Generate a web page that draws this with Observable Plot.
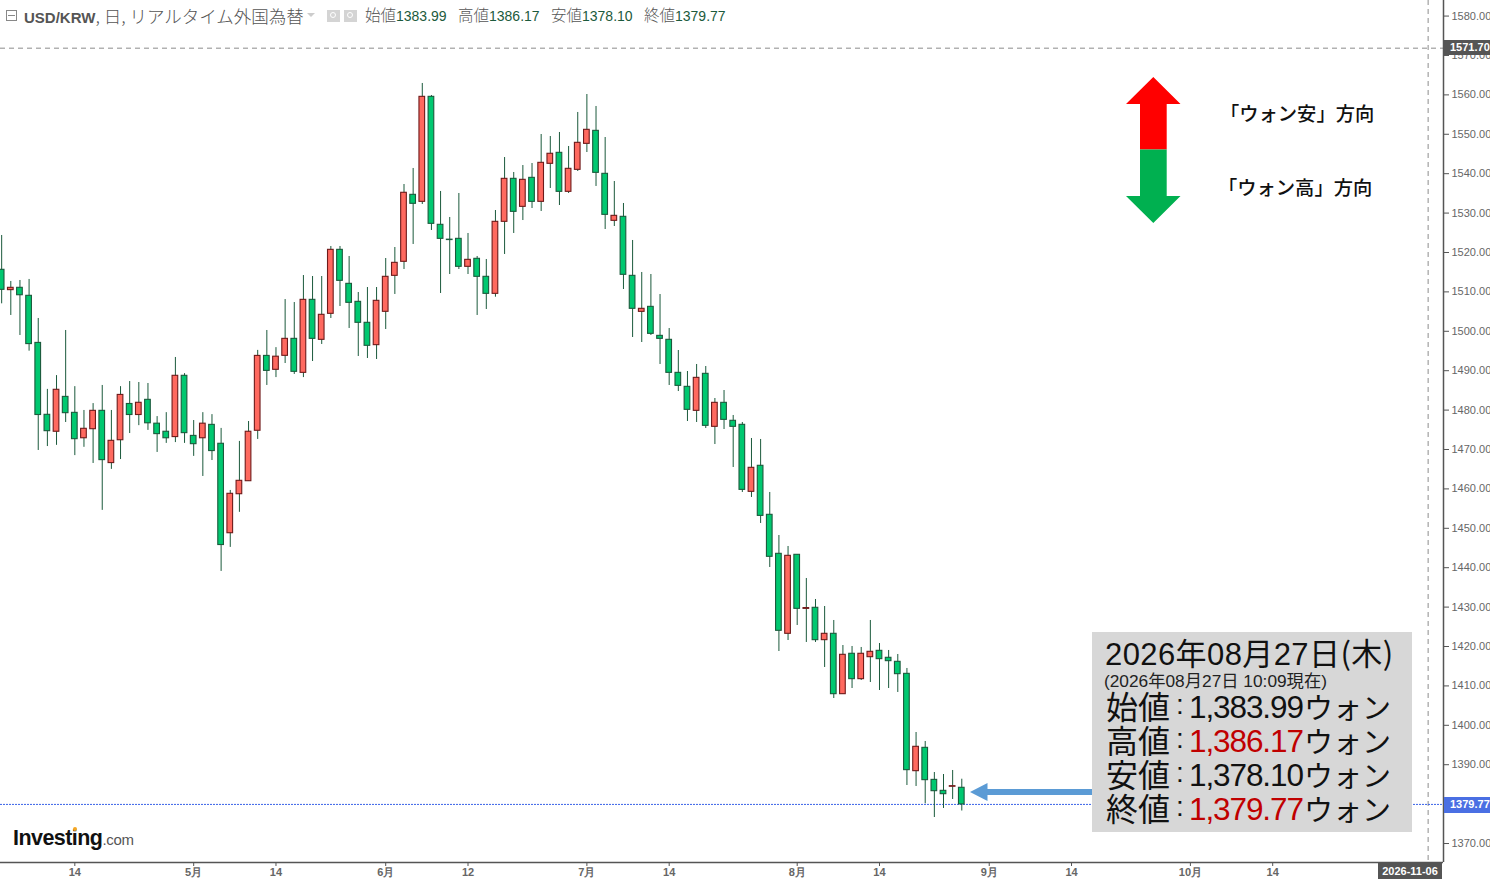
<!DOCTYPE html>
<html lang="ja">
<head>
<meta charset="utf-8">
<script src="https://cdn.jsdelivr.net/npm/d3@7"></script>
<script src="https://cdn.jsdelivr.net/npm/@observablehq/plot@0.6"></script>
<style>
html,body{margin:0;padding:0;background:#fff;overflow:hidden}
#wrap{position:relative;width:1490px;height:879px;overflow:hidden;font-family:"Liberation Sans",Arial,sans-serif}
#wrap svg.plot-root{position:absolute;left:0;top:0}
.ov{position:absolute;white-space:nowrap}
.tag{color:#fff;font:bold 11px "Liberation Sans",Arial,sans-serif;line-height:15px;text-align:left}
.jp{font-family:"Noto Sans CJK JP","Liberation Sans",sans-serif}
.cell{position:absolute;height:34px;line-height:34px;white-space:nowrap;color:#111;font-family:"Liberation Sans",sans-serif}
.cell.jp{font-family:"Noto Sans CJK JP",sans-serif}
</style>
</head>
<body>
<div id="wrap"></div>
<script>
// Daily USD/KRW candles, left to right (trading-day index = array position)
const open = [1515.45,1510.29,1510.88,1508.85,1496.9,1478.65,1474.35,1483.2,1479.15,1472.7,
1475.0,1479.66,1466.4,1472.2,1481.4,1478.6,1482.45,1476.4,1474.35,1473.0,
1488.55,1473.3,1472.7,1476.1,1471.3,1448.6,1458.5,1461.8,1474.6,1493.6,
1490.07,1493.62,1497.93,1489.3,1507.83,1497.68,1504.28,1520.52,1511.89,1507.32,
1502.0,1496.33,1504.79,1513.92,1517.48,1534.48,1532.7,1559.35,1526.87,1523.1,
1523.31,1516.21,1518.24,1513.67,1509.35,1527.63,1538.54,1531.43,1538.79,1532.7,
1542.35,1545.14,1535.24,1540.82,1547.42,1550.72,1539.81,1527.88,1528.9,1513.92,
1504.78,1506.05,1498.69,1497.68,1489.3,1485.75,1479.66,1489.05,1475.6,1481.69,
1477.13,1476.11,1459.1,1465.71,1453.27,1443.37,1423.07,1443.12,1429.4,1429.67,
1421.46,1423.07,1407.75,1418.0,1411.56,1417.14,1418.75,1416.98,1415.96,1412.91,
1388.21,1394.13,1386.0,1383.22,1384.25,1383.99];
const high = [1524.16,1512.49,1512.74,1513.0,1503.1,1485.1,1488.6,1500.05,1485.8,1479.75,
1481.5,1486.1,1479.75,1485.8,1487.1,1486.85,1486.6,1478.2,1479.2,1493.2,
1489.1,1477.2,1479.2,1478.7,1475.2,1459.45,1471.9,1476.95,1495.0,1500.05,
1495.7,1507.9,1507.15,1514.0,1513.75,1513.75,1521.37,1521.37,1518.83,1509.69,
1510.96,1510.96,1518.32,1521.11,1537.1,1541.17,1562.74,1559.69,1535.33,1528.73,
1534.82,1524.67,1518.83,1518.07,1530.5,1543.95,1540.15,1541.92,1542.43,1549.79,
1549.28,1550.3,1546.75,1555.38,1559.94,1556.9,1549.03,1537.86,1532.28,1522.89,
1514.77,1514.26,1509.18,1500.55,1494.97,1489.64,1491.42,1490.91,1482.79,1484.82,
1478.48,1476.7,1472.64,1472.39,1458.94,1448.02,1445.23,1443.12,1437.11,1431.78,
1430.0,1426.45,1420.1,1419.85,1419.6,1426.45,1420.61,1418.84,1417.82,1414.27,
1398.02,1395.74,1387.87,1387.36,1388.38,1386.17];
const low = [1506.82,1503.86,1498.78,1494.8,1469.6,1470.6,1470.9,1476.7,1468.3,1470.4,
1466.3,1454.4,1464.8,1467.3,1473.9,1475.9,1474.7,1469.1,1471.4,1471.6,
1471.4,1468.1,1463.0,1467.05,1438.9,1445.0,1453.9,1461.8,1472.4,1486.1,
1488.1,1491.67,1488.9,1488.1,1492.18,1496.5,1503.1,1506.14,1500.56,1493.45,
1492.94,1492.69,1500.3,1509.19,1515.53,1521.88,1532.03,1525.43,1509.44,1514.26,
1515.53,1514.26,1503.86,1505.38,1508.5,1519.34,1524.67,1527.96,1531.01,1530.25,
1536.09,1531.77,1534.82,1540.4,1545.22,1536.6,1525.68,1526.44,1510.45,1498.27,
1497.0,1498.78,1491.42,1486.09,1484.56,1476.95,1476.7,1475.17,1471.11,1474.92,
1465.28,1458.94,1457.67,1451.07,1439.9,1418.58,1421.37,1425.18,1420.87,1420.87,
1414.52,1406.65,1407.75,1409.19,1411.22,1410.71,1408.68,1409.19,1408.18,1384.57,
1384.32,1379.92,1376.45,1378.74,1381.02,1378.1];
const close = [1510.37,1510.88,1509.0,1496.6,1478.6,1474.5,1485.0,1479.07,1472.47,1475.1,
1479.66,1467.15,1472.05,1483.7,1478.6,1481.7,1476.5,1473.75,1472.7,1488.55,
1474.0,1471.2,1476.4,1469.45,1445.6,1458.6,1461.9,1474.35,1493.6,1489.8,
1493.4,1497.93,1489.56,1507.83,1497.93,1504.03,1520.52,1512.65,1507.07,1502.0,
1496.16,1507.58,1513.67,1517.22,1535.0,1532.2,1559.35,1527.12,1523.31,1523.0,
1516.21,1517.98,1513.67,1509.35,1527.63,1538.54,1530.16,1538.29,1532.7,1542.6,
1544.9,1535.24,1541.08,1547.68,1550.98,1540.06,1529.4,1529.15,1514.18,1505.55,
1505.55,1499.2,1497.93,1489.3,1486.0,1479.91,1488.03,1475.85,1481.69,1477.37,
1475.6,1459.6,1465.2,1453.0,1442.61,1423.83,1442.86,1429.41,1429.6,1421.46,
1423.07,1407.75,1417.74,1411.56,1418.0,1418.5,1416.64,1416.13,1412.83,1388.47,
1394.39,1385.93,1383.13,1382.37,1384.4,1379.77];

const xTickIndex = [8,21,30,42,51,64,73,87,96,108,117,130,139];
const xTickLabels = ["14","5月","14","6月","12","7月","14","8月","14","9月","14","10月","14"];
const yTicks = [1370,1380,1390,1400,1410,1420,1430,1440,1450,1460,1470,1480,1490,1500,1510,1520,1530,1540,1550,1560,1570,1580];
const crosshairPrice = 1571.70;
const crosshairIndex = 156;
const lastClose = 1379.77;

const candles = open.map((o,i)=>({i,open:o,high:high[i],low:low[i],close:close[i],up:close[i]>o}));

const XDOMAIN=[-0.127,157.68], YDOMAIN=[1365.03,1583.8];
const chart = Plot.plot({
  width:1490,height:879,marginLeft:0,marginRight:47,marginTop:0,marginBottom:17,
  style:{fontFamily:'"Liberation Sans",Arial,sans-serif',background:"transparent",overflow:"hidden"},
  x:{type:"linear",domain:XDOMAIN},
  y:{type:"linear",domain:YDOMAIN},
  marks:[
    Plot.ruleY([crosshairPrice],{stroke:"#8c8c8c",strokeWidth:1,strokeDasharray:"5,4"}),
    Plot.ruleX([crosshairIndex],{stroke:"#8c8c8c",strokeWidth:1,strokeDasharray:"5,4"}),
    Plot.ruleY([lastClose],{stroke:"#3a62e8",strokeWidth:1,strokeDasharray:"2,1"}),
    Plot.ruleX(candles,{x:"i",y1:"low",y2:"high",stroke:"#1b5a3c",strokeWidth:1}),
    Plot.rect(candles,{
      x1:d=>d.i-0.31,x2:d=>d.i+0.31,
      y1:d=>Math.min(d.open,d.close),y2:d=>Math.max(d.open,d.close),
      fill:d=>d.up?"#ff695f":"#00c870",
      stroke:d=>d.up?"#6e1a1a":"#1b5a3c",strokeWidth:1.1
    }),
    Plot.ruleX([XDOMAIN[1]],{stroke:"#555",strokeWidth:1.5}),
    Plot.ruleY([YDOMAIN[0]],{stroke:"#555",strokeWidth:1.5}),
    Plot.axisY({anchor:"right",ticks:yTicks,tickFormat:d=>d.toFixed(2),tickSize:5,tickPadding:3,label:null,fontSize:11,fill:"#666",stroke:"#555",dy:0.6}),
    Plot.axisX({anchor:"bottom",ticks:xTickIndex,tickFormat:d=>xTickLabels[xTickIndex.indexOf(d)],tickSize:4,tickPadding:2,label:null,fontSize:11,fontWeight:"bold",fill:"#666",stroke:"#555"})
  ]
});
const wrap=document.getElementById("wrap");
wrap.appendChild(chart);

function add(html){const t=document.createElement("template");t.innerHTML=html.trim();wrap.appendChild(t.content.firstChild);}

// header legend
add(`<div class="ov" style="left:6px;top:10px;width:11px;height:11px;border:1px solid #888;box-sizing:border-box"><div style="margin:4px 1px 0;height:1px;background:#888"></div></div>`);
add(`<div class="ov jp" style="left:24px;top:4px;font-size:17.5px;line-height:23px;font-weight:300;color:#555"><b style="font-family:'Liberation Sans';font-weight:bold;font-size:15px">USD/KRW</b>, 日, リアルタイム外国為替</div>`);
add(`<div class="ov" style="left:307px;top:13px;width:0;height:0;border:4px solid transparent;border-top:4px solid #ccc"></div>`);
add(`<div class="ov" style="left:327px;top:10px;width:13px;height:12px;background:#d4d4d4"><div style="width:6px;height:6px;border:1px solid #fff;border-radius:50%;margin:2px 2.5px;box-sizing:border-box"></div></div>`);
add(`<div class="ov" style="left:344px;top:10px;width:13px;height:12px;background:#d4d4d4"><div style="width:6px;height:6px;border:1px solid #fff;border-radius:50%;margin:2px 2.5px;box-sizing:border-box"></div></div>`);
const hdr=[["始値",365,"1383.99"],["高値",458,"1386.17"],["安値",551,"1378.10"],["終値",644,"1379.77"]];
hdr.forEach(([k,x,v])=>add(`<div class="ov" style="left:${x}px;top:3px;line-height:22px;font-size:14px;color:#1c5a3c"><span class="jp" style="color:#555;font-size:15.5px;font-weight:300">${k}</span>${v}</div>`));

// direction arrows
add(`<svg class="ov" style="left:0;top:0" width="1490" height="879" viewBox="0 0 1490 879">
<polygon points="1153.3,77 1180.5,104 1166.7,104 1166.7,149.5 1140,149.5 1140,104 1126,104" fill="#ff0000"/>
<polygon points="1153.3,223 1180.5,196 1166.7,196 1166.7,149.5 1140,149.5 1140,196 1126,196" fill="#00b050"/>
<polygon points="970,792 987.5,783 987.5,789 1092,789 1092,795 987.5,795 987.5,801" fill="#5b9bd5"/>
</svg>`);
add(`<div class="ov jp" style="left:1220px;top:98px;font-size:19.3px;line-height:30px;font-weight:500;color:#111">「ウォン安」方向</div>`);
add(`<div class="ov jp" style="left:1218px;top:172px;font-size:19.3px;line-height:30px;font-weight:500;color:#111">「ウォン高」方向</div>`);

// info box
const rows=[["始値","1,383.99",false,690],["高値","1,386.17",true,724],["安値","1,378.10",false,758],["終値","1,379.77",true,792]];
let box=`<div class="ov" style="left:1092px;top:632px;width:320px;height:200px;background:#d7d7d7">`;
box+=`<div class="ov" style="left:13px;top:0px;line-height:40px;font-size:31px;color:#111;letter-spacing:0.4px">2026<span class="jp">年</span>08<span class="jp">月</span>27<span class="jp">日</span><span class="jp">(木)</span></div>`;
box+=`<div class="ov" style="left:12px;top:38px;line-height:20px;font-size:17.3px;color:#222">(2026<span class="jp">年</span>08<span class="jp">月</span>27<span class="jp">日</span> 10:09<span class="jp">現在</span>)</div>`;
rows.forEach(([k,v,red,y])=>{
  const t=y-632-2;
  box+=`<span class="cell jp" style="left:14px;top:${t}px;font-size:32px">${k}</span>`;
  box+=`<span class="cell" style="left:84px;top:${t}px;font-size:28px">:</span>`;
  box+=`<span class="cell" style="left:97px;top:${t+2}px;font-size:31.5px;letter-spacing:-1.1px;color:${red?'#c00000':'#111'}">${v}</span>`;
  box+=`<span class="cell jp" style="left:212px;top:${t+1}px;font-size:29px">ウォン</span>`;
});
box+=`</div>`;
add(box);

// axis tags
add(`<div class="ov tag" style="left:1444px;top:40px;width:46px;height:15px;background:#555;padding-left:6px;box-sizing:border-box">${crosshairPrice.toFixed(2)}</div>`);
add(`<div class="ov tag" style="left:1444px;top:797px;width:46px;height:16px;background:#4a6fe3;padding-left:6px;box-sizing:border-box">${lastClose.toFixed(2)}</div>`);
add(`<div class="ov tag" style="left:1378px;top:862px;width:64px;height:17px;background:#555;text-align:center;line-height:19px">2026-11-06</div>`);

// logo
add(`<div class="ov" style="left:13px;top:825px;line-height:26px;font-size:21.5px;font-weight:bold;letter-spacing:-0.55px;color:#111">Investing<span style="font-weight:normal;font-size:15px;letter-spacing:-0.3px;color:#555">.com</span></div>`);
add(`<div class="ov" style="left:73px;top:827px;width:4px;height:4px;background:#f5a623;border-radius:50%"></div>`);
</script>
</body>
</html>
